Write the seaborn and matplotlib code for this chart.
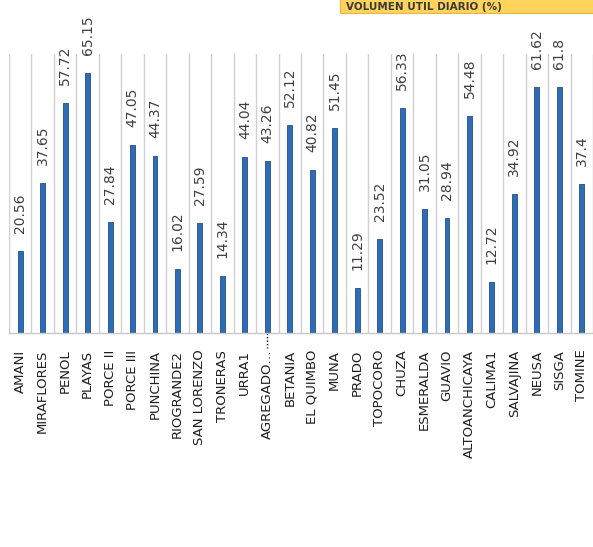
import matplotlib
matplotlib.use("Agg")
import matplotlib.pyplot as plt
import seaborn as sns
import pandas as pd
import matplotlib.transforms as mtransforms
from matplotlib.patches import Rectangle

embalses = ["AMANI", "MIRAFLORES", "PENOL", "PLAYAS", "PORCE II", "PORCE III",
            "PUNCHINA", "RIOGRANDE2", "SAN LORENZO", "TRONERAS", "URRA1",
            "AGREGADO…", "BETANIA", "EL QUIMBO", "MUNA", "PRADO", "TOPOCORO",
            "CHUZA", "ESMERALDA", "GUAVIO", "ALTOANCHICAYA", "CALIMA1",
            "SALVAJINA", "NEUSA", "SISGA", "TOMINE"]
volumen = [20.56, 37.65, 57.72, 65.15, 27.84, 47.05, 44.37, 16.02, 27.59, 14.34,
           44.04, 43.26, 52.12, 40.82, 51.45, 11.29, 23.52, 56.33, 31.05, 28.94,
           54.48, 12.72, 34.92, 61.62, 61.8, 37.4]
titulo = "VOLUMEN UTIL DIARIO (%)"

df = pd.DataFrame({"embalse": embalses, "volumen": volumen})

sns.set_style("white")
plt.rcParams["font.family"] = ["DejaVu Sans"]

fig = plt.figure(figsize=(5.93, 5.47), dpi=100)
ax = fig.add_axes([9 / 593, (547 - 333) / 547, 1 - 9 / 593, (333 - 54) / 547])

sns.barplot(data=df, x="embalse", y="volumen", ax=ax, width=0.22,
            color="#2E6DB5", edgecolor="#1F4F8A", linewidth=0.6, saturation=1)

ax.set_ylim(0, 70)
ax.set_xlim(-0.5, len(embalses) - 0.5)
ax.set_xlabel("")
ax.set_ylabel("")
ax.set_yticks([])

# value labels
for cont in ax.containers:
    ax.bar_label(cont, labels=[f"{v:g}" for v in volumen], rotation=90,
                 padding=13, fontsize=10, color="#404040")

# gridlines at category boundaries
ax.set_xticks([i + 0.5 for i in range(-1, len(embalses))], minor=True)
ax.grid(True, axis="x", which="minor", color="#d0d0d0", linewidth=1)
ax.grid(False, axis="x", which="major")
ax.tick_params(axis="x", which="both", length=0)
ax.tick_params(axis="x", which="major", pad=12)
ax.set_xticks(range(len(embalses)))
ax.set_xticklabels(embalses, rotation=90, fontsize=9.5, color="#202020", va="top", ha="center")

for s in ["top", "right", "left"]:
    ax.spines[s].set_visible(False)
ax.spines["bottom"].set_color("#c8c8c8")
ax.spines["bottom"].set_linewidth(1)

# dotted focus marker below the truncated label
idx = embalses.index("AGREGADO…")
trans = mtransforms.blended_transform_factory(ax.transData, ax.transAxes)
ax.plot([idx, idx], [0, -0.055], transform=trans, clip_on=False,
        color="black", linestyle=(0, (1, 1.5)), linewidth=1)

# title box at the top right
box_h = 13 / 547
fig.patches.append(Rectangle((340 / 593, 1 - box_h), 1 - 340 / 593 + 0.01, box_h + 0.01,
                             transform=fig.transFigure, facecolor="#FFD35C",
                             edgecolor="#E6B543", linewidth=0.8, zorder=5))
fig.text(346 / 593, 1 - box_h / 2, titulo, fontsize=7.5, fontweight="bold",
         color="#3a3a3a", ha="left", va="center", zorder=6)

fig.savefig("out.png", dpi=100)
